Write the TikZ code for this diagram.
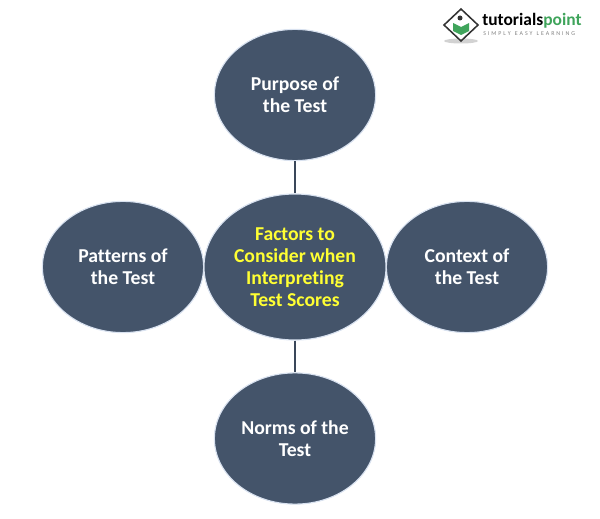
\documentclass[tikz,border=0pt]{standalone}
\usepackage{fontspec}
\setmainfont[Ligatures = NoCommon]{Carlito}
\usetikzlibrary{shapes.geometric}

\definecolor{slate}{HTML}{44546A}
\definecolor{rim}{HTML}{D9E2F0}
\definecolor{scoreyellow}{HTML}{FFFF33}
\definecolor{logogreen}{HTML}{3FA45B}

\tikzset{
	factor/.style = {ellipse, draw = rim, line width = 0.8pt, fill = slate, text = white, align = center, inner sep = 0pt, font = \bfseries\fontsize{14}{15.6}\selectfont, minimum width = 4.03cm, minimum height = 3.28cm},
	link/.style = {draw = slate!85!black, line width = 1.5pt}
}

\begin{document}
\begin{tikzpicture}[x = 0.025cm, y = -0.025cm]

% Page size

\useasboundingbox (0, 0) rectangle (600, 519);

% Factors

\node [factor] (purpose) at (295, 95) {Purpose of\\the Test};
\node [factor] (patterns) at (123, 267) {Patterns of\\the Test};
\node [factor] (context) at (467, 267) {Context of\\the Test};
\node [factor] (norms) at (295, 438.5) {Norms of the\\Test};

% Centre

\node [factor, text = scoreyellow, minimum width = 4.55cm, minimum height = 3.65cm] (centre) at (295, 267) {Factors to\\Consider when\\Interpreting\\Test Scores};

% Links

\draw [link] (purpose) -- (centre);
\draw [link] (centre) -- (norms);

% Logo

\fill [gray!35] (461, 41) ellipse (17 and 2.5);
\draw [fill = white, draw = black!80, line width = 1.1pt] (461, 9) -- (478, 25) -- (461, 41) -- (444, 25) -- cycle;
\fill [logogreen] (453, 23) -- (461, 27) -- (469, 23) -- (469, 31) -- (461, 35) -- (453, 31) -- cycle;
\fill [black!80] (460, 18) circle (2.5);
\node [inner sep = 0pt, anchor = west, font = \bfseries\fontsize{12.4}{13}\selectfont] (brand) at (482, 21) {tutorials\textcolor{logogreen}{point}};
\node [inner sep = 0pt, anchor = north west, text = gray, font = \fontsize{4.2}{5}\selectfont] (motto) at (483, 31) {S\,\,I\,\,M\,\,P\,\,L\,\,Y\ \ \ E\,\,A\,\,S\,\,Y\ \ \ L\,\,E\,\,A\,\,R\,\,N\,\,I\,\,N\,\,G};

\end{tikzpicture}
\end{document}
